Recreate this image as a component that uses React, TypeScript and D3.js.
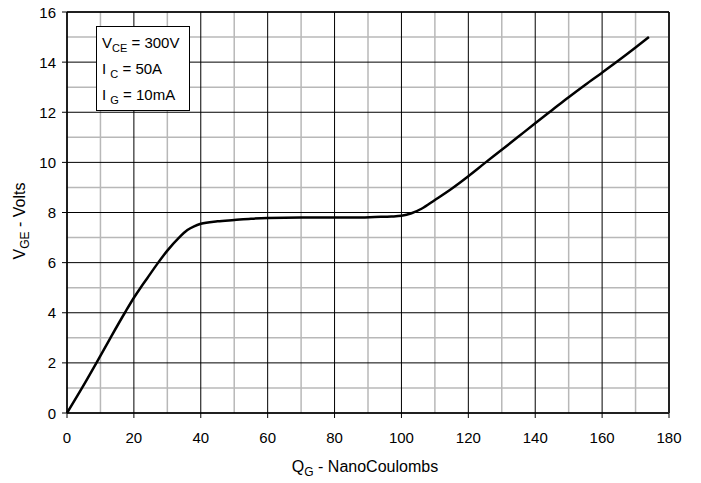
import React from "react";
import * as d3 from "d3";

const qG: number[] = [0, 4.5, 8.8, 13, 17.3, 20, 22, 24, 27, 30, 33.5, 36, 38, 40, 45, 50, 55, 60, 70, 80, 88, 92, 97, 100, 103, 106, 110, 115, 120, 125, 130, 135, 140, 145, 150, 155, 160, 165, 170, 174];
const vGE: number[] = [0, 1, 2, 3, 4, 4.6, 5.0, 5.38, 5.95, 6.48, 7, 7.3, 7.45, 7.55, 7.65, 7.7, 7.75, 7.78, 7.8, 7.8, 7.8, 7.82, 7.84, 7.87, 7.97, 8.15, 8.5, 8.95, 9.45, 9.98, 10.5, 11.03, 11.56, 12.08, 12.6, 13.1, 13.58, 14.07, 14.58, 15];
const xTicks: number[] = [0, 20, 40, 60, 80, 100, 120, 140, 160, 180];
const yTicks: number[] = [0, 2, 4, 6, 8, 10, 12, 14, 16];
const xMinor: number[] = [10, 30, 50, 70, 90, 110, 130, 150, 170];
const yMinor: number[] = [1, 3, 5, 7, 9, 11, 13, 15];

export default function App() {
  const W = 701, H = 483;
  const left = 67, right = 669, top = 12, bottom = 413;
  const x = d3.scaleLinear().domain([0, 180]).range([left, right]);
  const y = d3.scaleLinear().domain([0, 16]).range([bottom, top]);
  const line = d3.line<number>().x((_, i) => x(qG[i])).y((d) => y(d)).curve(d3.curveMonotoneX);
  const font = "Arial, 'Liberation Sans', sans-serif";
  return (
    <svg width={W} height={H} style={{ position: "absolute", left: 0, top: 0, background: "#fff" }} fontFamily={font}>
      {xMinor.map((v) => (
        <line key={"xm" + v} x1={x(v)} x2={x(v)} y1={top} y2={bottom} stroke="#b8b8b8" strokeWidth={1.5} />
      ))}
      {yMinor.map((v) => (
        <line key={"ym" + v} x1={left} x2={right} y1={y(v)} y2={y(v)} stroke="#b8b8b8" strokeWidth={1.5} />
      ))}
      {xTicks.map((v) => (
        <line key={"xg" + v} x1={x(v)} x2={x(v)} y1={top} y2={bottom + 5} stroke="#000" strokeWidth={1} />
      ))}
      {yTicks.map((v) => (
        <line key={"yg" + v} x1={left - 5} x2={right} y1={y(v)} y2={y(v)} stroke="#000" strokeWidth={1} />
      ))}
      <line x1={left} x2={left} y1={top} y2={bottom} stroke="#000" strokeWidth={1.5} />
      <line x1={left} x2={right} y1={bottom} y2={bottom} stroke="#000" strokeWidth={1.5} />
      <line x1={right} x2={right} y1={top} y2={bottom} stroke="#222" strokeWidth={2} />
      <line x1={left} x2={right} y1={top} y2={top} stroke="#000" strokeWidth={1.5} />
      {xTicks.map((v) => (
        <text key={"xl" + v} x={x(v)} y={443} textAnchor="middle" fontSize={15} fill="#000">{v}</text>
      ))}
      {yTicks.map((v) => (
        <text key={"yl" + v} x={56} y={y(v) + 5.5} textAnchor="end" fontSize={15} fill="#000">{v}</text>
      ))}
      <path d={line(vGE) || ""} fill="none" stroke="#000" strokeWidth={2.5} strokeLinejoin="round" />
      <rect x={96.5} y={26.5} width={93} height={84} fill="#fff" stroke="#000" strokeWidth={1} />
      <text x={102} y={48} fontSize={15} fill="#000">V<tspan fontSize={11} dy={4}>CE</tspan><tspan dy={-4}> = 300V</tspan></text>
      <text x={102} y={74} fontSize={15} fill="#000">I <tspan fontSize={11} dy={4}>C</tspan><tspan dy={-4}> = 50A</tspan></text>
      <text x={102} y={100} fontSize={15} fill="#000">I <tspan fontSize={11} dy={4}>G</tspan><tspan dy={-4}> = 10mA</tspan></text>
      <text x={365} y={472} textAnchor="middle" fontSize={16} fill="#000">Q<tspan fontSize={12} dy={4}>G</tspan><tspan dy={-4}> - NanoCoulombs</tspan></text>
      <text transform="translate(25,221) rotate(-90)" textAnchor="middle" fontSize={16} fill="#000">V<tspan fontSize={12} dy={4}>GE</tspan><tspan dy={-4}> - Volts</tspan></text>
    </svg>
  );
}
